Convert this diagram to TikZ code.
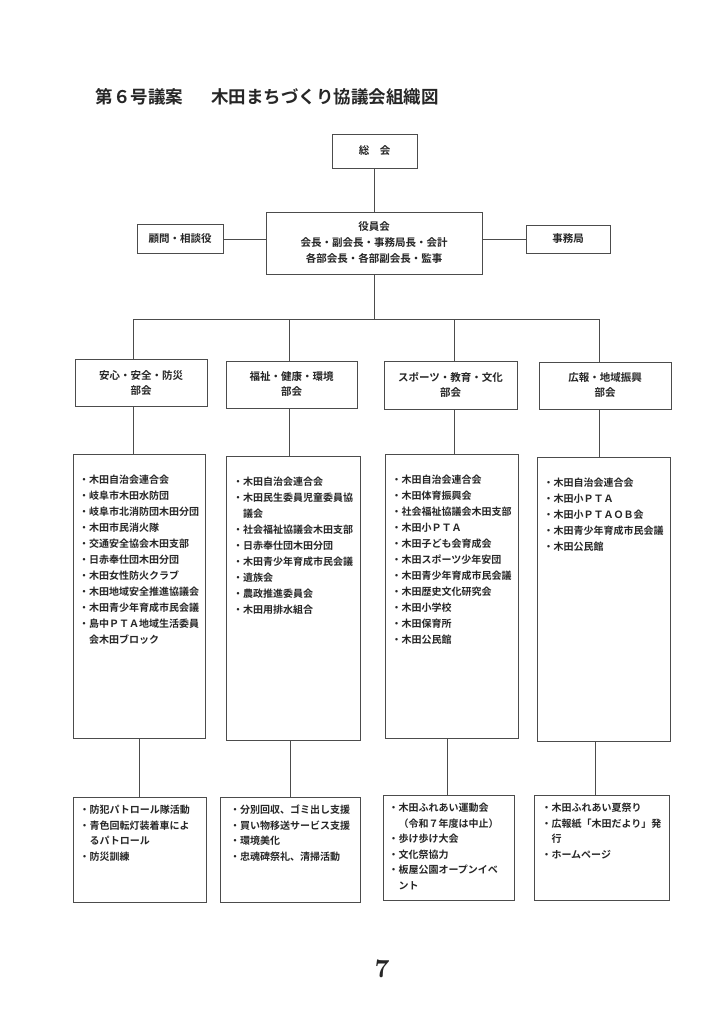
\documentclass[tikz,border=0pt]{standalone}
\usepackage{fontspec}
\setmainfont{Noto Sans CJK JP}[BoldFont=* Bold]
\newfontfamily\pagenumfont{lmroman10-bold}[Extension=.otf]
\usetikzlibrary{calc}

\newcommand{\memberlist}[1]{\parbox[c][243pt][t]{120pt}{\fontsize{10}{16}\selectfont\raggedright #1}}
\newcommand{\actlist}[1]{\parbox[c][89pt][t]{120pt}{\fontsize{10}{15.5}\selectfont\raggedright #1}}
\newcommand{\cont}{\hphantom{・}}

\begin{document}
\begin{tikzpicture}[x=1pt,y=-1pt]
            \tikzstyle{frame} = [draw=black!70, line width=0.8pt, inner sep=0pt, align=center, text=black!85, font=\bfseries\fontsize{10.5}{16}\selectfont]
            \tikzstyle{link} = [draw=black!70, line width=0.8pt]
            \useasboundingbox (0,0) rectangle (724,1024);
            \node[anchor=west, text=black!85, font=\bfseries\fontsize{17.5}{20}\selectfont] (title) at (92,97) {第６号議案\hspace{28pt}木田まちづくり協議会組織図};
            \node[frame, minimum width=85, minimum height=34] (soukai) at (374.5,151) {総　会};
            \node[frame, minimum width=216, minimum height=62] (yakuin) at (374,243) {役員会\\会長・副会長・事務局長・会計\\各部会長・各部副会長・監事};
            \node[frame, minimum width=86, minimum height=29] (komon) at (180,239) {顧問・相談役};
            \node[frame, minimum width=84, minimum height=28] (jimu) at (568,239) {事務局};
            \draw[link] (soukai.south) -- (soukai.south |- yakuin.north);
            \draw[link] (komon.east) -- (komon.east -| yakuin.west);
            \draw[link] (jimu.west) -- (jimu.west -| yakuin.east);
            \coordinate (b1) at (133,319);
            \coordinate (b2) at (289,319);
            \coordinate (b3) at (454,319);
            \coordinate (b4) at (599,319);
            \draw[link] (yakuin.south) -- (yakuin.south |- b1);
            \draw[link] (b1) -- (b4);
            \node[frame, minimum width=132, minimum height=47, font=\bfseries\fontsize{10.5}{15}\selectfont] (d1) at (141,382.5) {安心・安全・防災\\部会};
            \node[frame, minimum width=131, minimum height=47, font=\bfseries\fontsize{10.5}{15}\selectfont] (d2) at (291.5,384.5) {福祉・健康・環境\\部会};
            \node[frame, minimum width=133, minimum height=48, font=\bfseries\fontsize{10.5}{15}\selectfont] (d3) at (450.5,385) {スポーツ・教育・文化\\部会};
            \node[frame, minimum width=132, minimum height=47, font=\bfseries\fontsize{10.5}{15}\selectfont] (d4) at (605,385.5) {広報・地域振興\\部会};
            \node[frame, minimum width=132, minimum height=284] (m1) at (139,596) {\memberlist{・木田自治会連合会\\・岐阜市木田水防団\\・岐阜市北消防団木田分団\\・木田市民消火隊\\・交通安全協会木田支部\\・日赤奉仕団木田分団\\・木田女性防火クラブ\\・木田地域安全推進協議会\\・木田青少年育成市民会議\\・島中ＰＴＡ地域生活委員\\\cont 会木田ブロック}};
            \node[frame, minimum width=134, minimum height=284] (m2) at (293,598) {\memberlist{・木田自治会連合会\\・木田民生委員児童委員協\\\cont 議会\\・社会福祉協議会木田支部\\・日赤奉仕団木田分団\\・木田青少年育成市民会議\\・遺族会\\・農政推進委員会\\・木田用排水組合}};
            \node[frame, minimum width=133, minimum height=284] (m3) at (451.5,596) {\memberlist{・木田自治会連合会\\・木田体育振興会\\・社会福祉協議会木田支部\\・木田小ＰＴＡ\\・木田子ども会育成会\\・木田スポーツ少年安団\\・木田青少年育成市民会議\\・木田歴史文化研究会\\・木田小学校\\・木田保育所\\・木田公民館}};
            \node[frame, minimum width=133, minimum height=284] (m4) at (603.5,599) {\memberlist{・木田自治会連合会\\・木田小ＰＴＡ\\・木田小ＰＴＡＯＢ会\\・木田青少年育成市民会議\\・木田公民館}};
            \draw[link] (b1) -- (b1 |- d1.north);
            \draw[link] (b2) -- (b2 |- d2.north);
            \draw[link] (b3) -- (b3 |- d3.north);
            \draw[link] (b4) -- (b4 |- d4.north);
            \draw[link] (d1.south -| b1) -- (b1 |- m1.north);
            \draw[link] (d2.south -| b2) -- (b2 |- m2.north);
            \draw[link] (d3.south -| b3) -- (b3 |- m3.north);
            \draw[link] (d4.south -| b4) -- (b4 |- m4.north);
            \node[frame, minimum width=133, minimum height=105] (a1) at (139.5,849.5) {\actlist{・防犯パトロール隊活動\\・青色回転灯装着車によ\\\cont るパトロール\\・防災訓練}};
            \node[frame, minimum width=140, minimum height=105] (a2) at (290,849.5) {\actlist{・分別回収、ゴミ出し支援\\・買い物移送サービス支援\\・環境美化\\・忠魂碑祭礼、清掃活動}};
            \node[frame, minimum width=131, minimum height=105] (a3) at (448.5,847.5) {\actlist{・木田ふれあい運動会\\\cont （令和７年度は中止）\\・歩け歩け大会\\・文化祭協力\\・板屋公園オープンイベ\\\cont ント}};
            \node[frame, minimum width=135, minimum height=105] (a4) at (601.5,847.5) {\actlist{・木田ふれあい夏祭り\\・広報紙「木田だより」発\\\cont 行\\・ホームページ}};
            \draw[link] (a1.north) -- (a1.north |- m1.south);
            \draw[link] (a2.north) -- (a2.north |- m2.south);
            \draw[link] ([xshift=-1.5]a3.north) -- ([xshift=-1.5]a3.north |- m3.south);
            \draw[link] ([xshift=-6.5]a4.north) -- ([xshift=-6.5]a4.north |- m4.south);
            \node[text=black!85, font=\pagenumfont\fontsize{26}{26}\selectfont] (pagenum) at (382,969) {7};
        \end{tikzpicture}
\end{document}
